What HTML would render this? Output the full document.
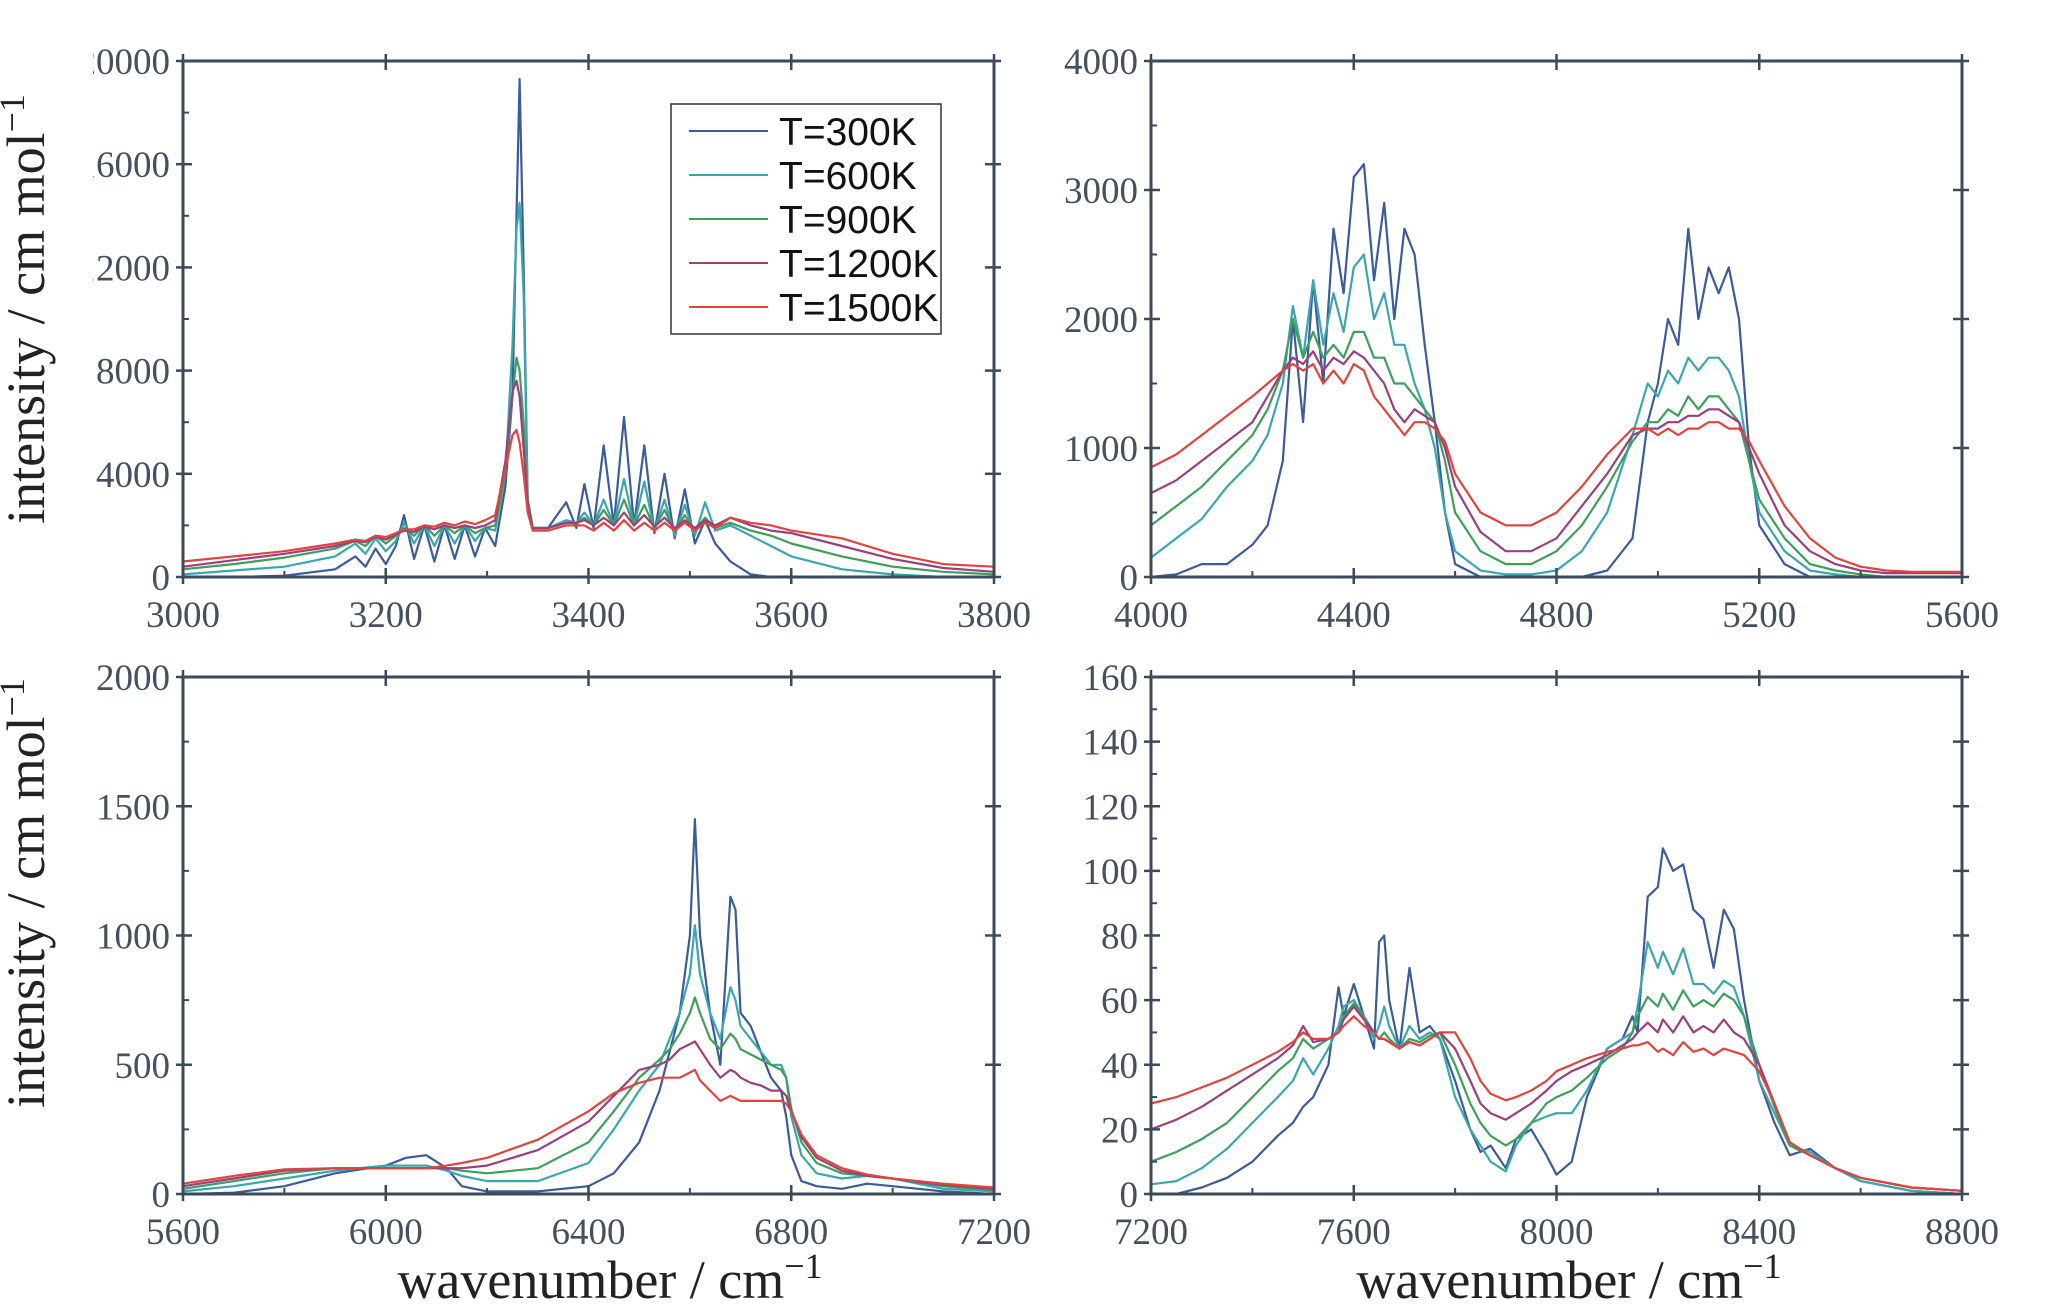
<!DOCTYPE html>
<html><head><meta charset="utf-8"><style>
html,body{margin:0;padding:0;background:#fff;}
svg{display:block;}
.tk{font-family:"Liberation Serif",serif;font-size:37px;fill:#44505e;}
.ttl{font-family:"Liberation Serif",serif;font-size:54px;fill:#222;}
.leg{font-family:"Liberation Sans",sans-serif;font-size:39px;fill:#111;}
</style></head><body>
<svg id="fig" width="2061" height="1314" viewBox="0 0 2061 1314" xmlns="http://www.w3.org/2000/svg">
<defs><clipPath id="tlclip"><rect x="93" y="0" width="200" height="700"/></clipPath></defs>
</svg>
<script>
const seriesNames=["T=300K","T=600K","T=900K","T=1200K","T=1500K"];
const colors=["#3b5b9a","#3aa6ad","#3f9f5a","#9a3f7f","#e0443e"];

const p1x=[3000,3050,3100,3150,3170,3180,3190,3200,3210,3218,3228,3238,3248,3258,3268,3278,3288,3298,3308,3318,3325,3329,3332,3336,3340,3345,3360,3378,3388,3396,3405,3415,3425,3435,3445,3455,3465,3475,3485,3495,3505,3515,3525,3540,3560,3580,3600,3650,3700,3750,3800];
const p1y300=[0,0,50,300,800,400,1100,500,1200,2400,700,2000,600,2000,700,2000,800,1900,1200,3500,7000,14000,19300,12000,3000,1900,1900,2900,1900,3600,1900,5100,2000,6200,2000,5100,1700,4000,1500,3400,1300,2200,1300,600,100,0,0,0,0,0,0];
const p1y600=[100,250,400,800,1300,900,1500,1000,1400,2100,1300,2000,1200,2000,1300,2000,1400,1900,1800,4000,9000,13500,14500,11000,3000,1900,1900,2200,2100,2500,2000,3000,2000,3800,2000,3700,1800,3000,1600,2800,1600,2900,1800,2000,1600,1200,800,300,100,0,0];
const p1y900=[300,500,750,1100,1400,1200,1600,1300,1600,1900,1600,2000,1600,2000,1700,2000,1700,1900,2000,4000,7000,8500,8000,6000,3000,1900,1900,2100,2100,2300,2000,2600,2000,3000,2000,2800,1900,2600,1800,2400,1800,2300,1900,2100,1800,1600,1300,800,400,200,100];
const p1y1200=[400,650,900,1200,1400,1350,1550,1450,1650,1800,1750,1950,1850,2000,1900,2000,1900,2000,2200,4500,7200,7600,7000,5000,2800,1900,1900,2100,2100,2200,2000,2300,2000,2500,2000,2400,1950,2300,1900,2200,1900,2200,2000,2300,2000,1800,1700,1200,700,350,200];
const p1y1500=[600,800,1000,1300,1450,1400,1600,1550,1700,1850,1850,2000,1950,2100,2000,2150,2050,2200,2400,4200,5500,5700,5200,4000,2500,1800,1800,2000,2000,2000,1800,2100,1800,2200,1800,2100,1800,2100,1800,2100,1800,2100,1900,2300,2100,2000,1800,1500,900,500,400];

const p2x=[4000,4050,4100,4150,4200,4230,4260,4280,4300,4320,4340,4360,4380,4400,4420,4440,4460,4480,4500,4520,4540,4560,4580,4600,4650,4700,4750,4800,4850,4900,4950,4980,5000,5020,5040,5060,5080,5100,5120,5140,5160,5180,5200,5250,5300,5350,5400,5450,5500,5600];
const p2y300=[0,20,100,100,250,400,900,2000,1200,2300,1500,2700,2200,3100,3200,2300,2900,2000,2700,2500,1800,1200,500,100,0,0,0,0,0,50,300,1200,1500,2000,1800,2700,2000,2400,2200,2400,2000,1000,400,100,0,0,0,0,0,0];
const p2y600=[150,300,450,700,900,1100,1500,2100,1700,2300,1800,2200,1900,2400,2500,2000,2200,1800,1800,1500,1300,1000,500,200,50,20,20,50,200,500,1100,1500,1400,1600,1500,1700,1600,1700,1700,1600,1400,900,500,200,50,20,0,0,0,0];
const p2y900=[400,550,700,900,1100,1300,1600,2000,1700,1900,1700,1800,1700,1900,1900,1700,1700,1500,1500,1400,1300,1200,900,500,200,100,100,200,400,700,1050,1200,1200,1300,1250,1400,1300,1400,1400,1300,1200,900,600,300,100,50,20,0,0,0];
const p2y1200=[650,750,900,1050,1200,1400,1600,1700,1650,1750,1600,1700,1650,1750,1700,1600,1500,1300,1200,1300,1250,1200,1000,700,350,200,200,300,550,800,1100,1150,1150,1200,1200,1250,1250,1300,1300,1250,1200,1000,800,400,200,100,50,30,30,30];
const p2y1500=[850,950,1100,1250,1400,1500,1600,1650,1600,1650,1500,1600,1500,1650,1600,1400,1300,1200,1100,1200,1200,1150,1050,800,500,400,400,500,700,950,1150,1150,1100,1150,1100,1150,1150,1200,1200,1150,1150,1050,900,550,300,150,80,50,40,40];

const p3x=[5600,5700,5800,5900,6000,6040,6080,6120,6150,6200,6300,6400,6450,6500,6540,6560,6580,6600,6610,6620,6640,6660,6680,6690,6700,6720,6740,6760,6780,6790,6800,6820,6850,6900,6950,7000,7100,7200];
const p3y300=[0,5,30,80,110,140,150,100,30,10,10,30,80,200,400,550,700,1000,1450,1000,700,500,1150,1100,700,650,550,450,400,300,150,50,30,20,40,30,10,0];
const p3y600=[10,30,60,90,110,110,110,90,70,50,50,120,250,400,500,600,700,850,1040,850,700,600,800,750,650,600,550,500,500,450,300,150,80,60,70,60,20,10];
const p3y900=[20,50,80,100,100,100,100,100,90,80,100,200,320,450,520,560,620,700,760,700,600,560,620,600,560,540,520,500,480,450,330,200,120,80,70,60,30,15];
const p3y1200=[30,60,90,100,100,100,100,100,100,110,170,280,380,480,500,520,560,580,590,560,500,450,480,470,450,430,420,400,400,380,320,220,140,90,70,60,35,20];
const p3y1500=[40,70,95,100,100,100,100,110,120,140,210,320,390,430,450,450,450,470,480,440,400,360,380,370,360,360,360,360,360,350,320,230,150,100,75,60,40,25];

const p4x=[7200,7250,7300,7350,7400,7450,7480,7500,7520,7550,7570,7580,7600,7620,7640,7650,7660,7670,7690,7710,7730,7750,7770,7800,7830,7850,7870,7900,7920,7950,7980,8000,8030,8060,8100,8130,8150,8160,8180,8200,8210,8230,8250,8270,8290,8310,8330,8350,8370,8400,8430,8460,8500,8550,8600,8700,8800];
const p4y300=[0,0,2,5,10,18,22,27,30,40,64,55,65,55,45,78,80,60,45,70,50,52,48,35,20,13,15,8,17,20,12,6,10,30,45,48,55,50,92,95,107,100,102,88,85,70,88,82,60,35,22,12,14,8,4,1,0];
const p4y600=[3,4,8,14,22,30,35,42,37,45,52,58,60,55,48,52,58,52,45,52,48,50,48,30,20,15,10,7,15,22,24,25,25,32,45,48,50,58,78,70,75,68,76,65,65,62,66,64,55,35,25,15,13,8,4,1,0];
const p4y900=[10,13,17,22,30,38,42,48,45,48,50,55,59,55,50,48,50,48,45,48,47,49,50,40,28,22,18,15,17,22,28,30,32,36,42,45,50,55,61,58,62,57,63,58,60,58,62,60,55,40,27,15,12,8,5,2,1];
const p4y1200=[20,23,27,32,37,42,46,52,47,48,50,54,58,54,50,48,48,47,45,47,46,48,50,45,35,28,25,23,25,28,32,35,38,40,43,46,48,50,53,50,54,50,55,50,52,50,54,50,48,40,28,16,12,8,5,2,1];
const p4y1500=[28,30,33,36,40,44,47,50,48,48,50,52,55,52,50,48,48,47,45,47,46,48,50,50,42,35,31,29,30,32,35,38,40,42,44,45,46,46,47,44,45,43,47,44,45,43,45,44,43,38,28,16,12,8,5,2,1];

const p1xt=[3000,3200,3400,3600,3800], p1yt=[0,4000,8000,12000,16000,20000];
const p2xt=[4000,4400,4800,5200,5600], p2yt=[0,1000,2000,3000,4000];
const p3xt=[5600,6000,6400,6800,7200], p3yt=[0,500,1000,1500,2000];
const p4xt=[7200,7600,8000,8400,8800], p4yt=[0,20,40,60,80,100,120,140,160];

const NS="http://www.w3.org/2000/svg";
const svg=document.getElementById('fig');
function mk(tag,attrs,parent){const e=document.createElementNS(NS,tag);for(const k in attrs)e.setAttribute(k,attrs[k]);(parent||svg).appendChild(e);return e;}

const panels=[
 {name:"panel-3000",x0:183,x1:994,y0:61,y1:577,xs:p1x,ys:[p1y300,p1y600,p1y900,p1y1200,p1y1500],xt:p1xt,yt:p1yt,clip:true},
 {name:"panel-4000",x0:1151,x1:1962,y0:61,y1:577,xs:p2x,ys:[p2y300,p2y600,p2y900,p2y1200,p2y1500],xt:p2xt,yt:p2yt},
 {name:"panel-5600",x0:183,x1:994,y0:677,y1:1194,xs:p3x,ys:[p3y300,p3y600,p3y900,p3y1200,p3y1500],xt:p3xt,yt:p3yt},
 {name:"panel-7200",x0:1151,x1:1962,y0:677,y1:1194,xs:p4x,ys:[p4y300,p4y600,p4y900,p4y1200,p4y1500],xt:p4xt,yt:p4yt}
];
const AX="#3b4a5a";
panels.forEach(p=>{
  const g=mk('g',{});
  
  
  const xmin=p.xt[0],xmax=p.xt[p.xt.length-1],ymin=p.yt[0],ymax=p.yt[p.yt.length-1];
  const sx=v=>p.x0+(v-xmin)/(xmax-xmin)*(p.x1-p.x0);
  const sy=v=>p.y1-(v-ymin)/(ymax-ymin)*(p.y1-p.y0);
  p.ys.forEach((arr,i)=>{
    const d=arr.map((v,j)=>(j?'L':'M')+sx(p.xs[j]).toFixed(1)+' '+sy(v).toFixed(1)).join(' ');
    const path=mk('path',{d:d,fill:'none',stroke:colors[i],'stroke-width':2.2,'stroke-linejoin':'round'},g);
    
    
  });
  const fr=mk('rect',{x:p.x0,y:p.y0,width:p.x1-p.x0,height:p.y1-p.y0,fill:'none',stroke:AX,'stroke-width':3},g);
  
  
  const xstep=p.xt[1]-p.xt[0];
  for(let k=0;k<p.xt.length;k++){
    const v=p.xt[k],X=sx(v);
    mk('line',{x1:X,x2:X,y1:p.y1+7,y2:p.y1-9,stroke:AX,'stroke-width':2.5},g);
    mk('line',{x1:X,x2:X,y1:p.y0-7,y2:p.y0+9,stroke:AX,'stroke-width':2.5},g);
    if(k<p.xt.length-1){const m=sx(v+xstep/2);
      mk('line',{x1:m,x2:m,y1:p.y1,y2:p.y1-6,stroke:AX,'stroke-width':2},g);}
    const t=mk('text',{x:X,y:p.y1+50,'text-anchor':'middle',class:'tk'},g);
    t.textContent=v;
    
    
  }
  const ystep=p.yt[1]-p.yt[0];
  const lg=mk('g',p.clip?{'clip-path':'url(#tlclip)'}:{},g);
  for(let k=0;k<p.yt.length;k++){
    const v=p.yt[k],Y=sy(v);
    mk('line',{x1:p.x0-7,x2:p.x0+9,y1:Y,y2:Y,stroke:AX,'stroke-width':2.5},g);
    mk('line',{x1:p.x1-9,x2:p.x1+7,y1:Y,y2:Y,stroke:AX,'stroke-width':2.5},g);
    if(k<p.yt.length-1){const m=sy(v+ystep/2);
      mk('line',{x1:p.x0,x2:p.x0+6,y1:m,y2:m,stroke:AX,'stroke-width':2},g);}
    const t=mk('text',{x:p.x0-13,y:Y+13,'text-anchor':'end',class:'tk'},lg);
    t.textContent=v;
    
    
  }
});
[309,893].forEach(cy=>{
  const t=mk('text',{x:0,y:0,transform:'translate(44,'+cy+') rotate(-90)','text-anchor':'middle',class:'ttl'});
  t.innerHTML='intensity / cm mol<tspan dy="-20" font-size="36">−1</tspan>';
  
  
});
[610,1569].forEach(cx=>{
  const t=mk('text',{x:cx,y:1298,'text-anchor':'middle',class:'ttl'});
  t.innerHTML='wavenumber / cm<tspan dy="-20" font-size="36">−1</tspan>';
  
  
});
const lg=mk('g',{});


mk('rect',{x:671,y:104,width:270,height:230,fill:'#fff',stroke:'#333','stroke-width':1.5},lg);
seriesNames.forEach((n,i)=>{
  const y=131+i*44;
  const ln=mk('line',{x1:689,x2:768,y1:y,y2:y,stroke:colors[i],'stroke-width':2},lg);
  
  
  const t=mk('text',{x:779,y:y+14,class:'leg'},lg);
  t.textContent=n;
  
  
});
</script>
</body></html>
